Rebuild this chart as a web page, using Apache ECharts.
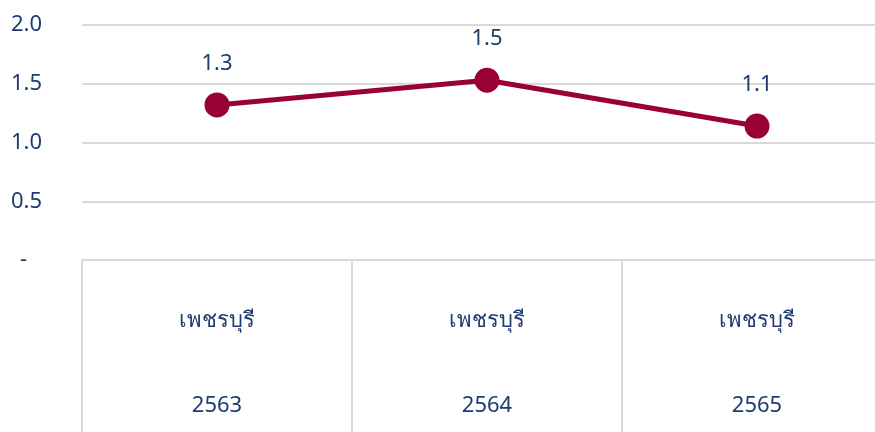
<!DOCTYPE html>
<html>
<head>
<meta charset="utf-8">
<script src="https://cdn.jsdelivr.net/npm/echarts@6/dist/echarts.min.js"></script>
<style>
	html, body { margin: 0; padding: 0; background: #fff; overflow: hidden; }
	#myChart { width: 892px; height: 432px; }
</style>
</head>
<body>
<div id="myChart"></div>
<script>
	var provinces = ['เพชรบุรี', 'เพชรบุรี', 'เพชรบุรี'];
	var years = ['2563', '2564', '2565'];
	var values = [1.32, 1.53, 1.14];
	var yTicks = [0, 0.5, 1.0, 1.5, 2.0];

	var textColor = '#1f3b70';
	var font = '"Noto Sans", "DejaVu Sans", sans-serif';

	var categories = years.map(function (y, i) { return i; });

	var myChart = echarts.init(document.getElementById('myChart'));

	var option = {
		animation: false,
		grid: { left: 82, top: 25, right: 0, bottom: 172 },
		xAxis: {
			type: 'category',
			data: categories,
			boundaryGap: true,
			axisLine: { lineStyle: { color: '#d9d9d9', width: 2 } },
			axisTick: { show: true, length: 175, lineStyle: { color: '#d9d9d9', width: 2 } },
			axisLabel: {
				margin: 18,
				formatter: function (v, i) {
					return '{a|' + provinces[i] + '}\n{b|' + years[i] + '}';
				},
				rich: {
					a: { fontSize: 22, lineHeight: 85, color: textColor, fontFamily: font },
					b: { fontSize: 22, lineHeight: 85, color: textColor, fontFamily: font }
				}
			}
		},
		yAxis: {
			type: 'value',
			min: yTicks[0],
			max: yTicks[yTicks.length - 1],
			interval: 0.5,
			axisLine: { show: false },
			axisTick: { show: false },
			splitLine: { lineStyle: { color: '#d9d9d9', width: 2 } },
			axisLabel: {
				margin: 40,
				color: textColor,
				fontSize: 22,
				fontFamily: font,
				formatter: function (v) {
					return v === 0 ? '{d|-}' : v.toFixed(1);
				},
				rich: {
					d: { fontSize: 22, color: textColor, fontFamily: font, padding: [0, 15, 0, 0] }
				}
			}
		},
		series: [{
			type: 'line',
			data: values,
			symbol: 'circle',
			symbolSize: 25,
			lineStyle: { color: '#990033', width: 5 },
			itemStyle: { color: '#990033' },
			label: {
				show: true,
				position: 'top',
				distance: 18,
				color: textColor,
				fontSize: 22,
				fontFamily: font,
				formatter: function (p) { return p.value.toFixed(1); }
			}
		}]
	};

	myChart.setOption(option);
</script>
</body>
</html>
